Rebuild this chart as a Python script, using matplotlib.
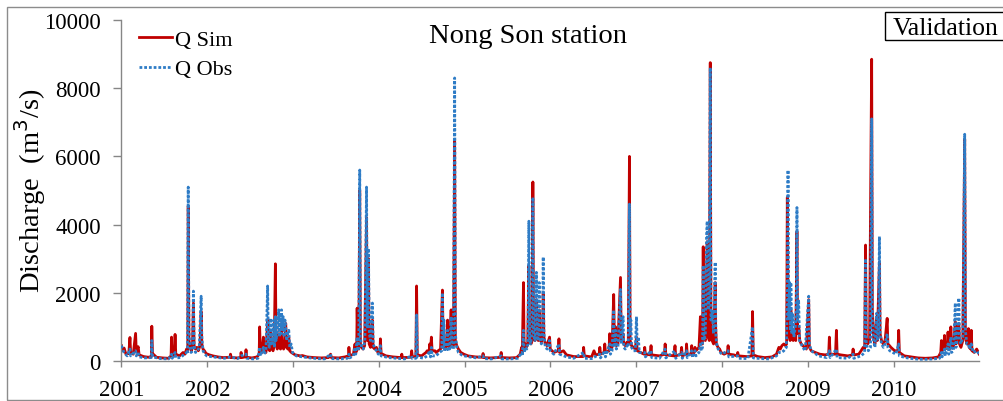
import matplotlib
matplotlib.use("Agg")
import matplotlib.pyplot as plt
from matplotlib.patches import Rectangle
import pandas as pd

# discharge values (m3/s), knots of the daily series
sim_points = [
    ("2001-01-01", 450), ("2001-01-05", 300), ("2001-01-12", 380), ("2001-01-20", 200), ("2001-02-01", 220),
    ("2001-02-06", 690), ("2001-02-09", 250), ("2001-02-20", 200), ("2001-03-02", 810), ("2001-03-05", 260),
    ("2001-03-13", 420), ("2001-03-17", 180), ("2001-04-05", 130), ("2001-04-25", 110), ("2001-05-08", 130),
    ("2001-05-10", 1020), ("2001-05-13", 220), ("2001-05-30", 110), ("2001-06-25", 90), ("2001-07-20", 80),
    ("2001-07-31", 150), ("2001-08-02", 700), ("2001-08-05", 180), ("2001-08-14", 160), ("2001-08-17", 780),
    ("2001-08-20", 200), ("2001-09-05", 150), ("2001-09-20", 250), ("2001-09-28", 200), ("2001-10-05", 350),
    ("2001-10-10", 300), ("2001-10-12", 4550), ("2001-10-15", 600), ("2001-10-20", 450), ("2001-10-25", 300),
    ("2001-10-30", 420), ("2001-11-03", 1700), ("2001-11-06", 450), ("2001-11-12", 350), ("2001-11-18", 400),
    ("2001-11-24", 300), ("2001-12-01", 450), ("2001-12-06", 1450), ("2001-12-09", 500), ("2001-12-14", 350),
    ("2001-12-20", 300), ("2001-12-27", 220),
    ("2002-01-10", 180), ("2002-01-25", 150), ("2002-02-15", 120), ("2002-03-10", 100), ("2002-04-08", 110),
    ("2002-04-10", 200), ("2002-04-13", 100), ("2002-05-10", 90), ("2002-05-23", 100), ("2002-05-25", 250),
    ("2002-05-28", 100), ("2002-06-12", 120), ("2002-06-15", 330), ("2002-06-18", 110), ("2002-07-10", 90),
    ("2002-08-01", 120), ("2002-08-10", 200), ("2002-08-12", 1000), ("2002-08-15", 300), ("2002-08-22", 250),
    ("2002-08-28", 700), ("2002-08-31", 300), ("2002-09-08", 250), ("2002-09-15", 1200), ("2002-09-18", 350),
    ("2002-09-24", 300), ("2002-09-28", 900), ("2002-10-02", 400), ("2002-10-08", 300), ("2002-10-13", 450),
    ("2002-10-18", 2850), ("2002-10-21", 500), ("2002-10-26", 350), ("2002-11-01", 800), ("2002-11-04", 400),
    ("2002-11-09", 350), ("2002-11-13", 1100), ("2002-11-17", 450), ("2002-11-22", 350), ("2002-11-27", 450),
    ("2002-12-01", 1100), ("2002-12-05", 400), ("2002-12-10", 350), ("2002-12-14", 700), ("2002-12-18", 300),
    ("2002-12-25", 250),
    ("2003-01-10", 180), ("2003-02-01", 150), ("2003-02-10", 160), ("2003-03-01", 120), ("2003-04-01", 100),
    ("2003-05-01", 90), ("2003-06-01", 100), ("2003-06-10", 200), ("2003-06-13", 100), ("2003-07-15", 90),
    ("2003-08-10", 120), ("2003-08-25", 150), ("2003-08-27", 400), ("2003-08-30", 150), ("2003-09-15", 200),
    ("2003-09-22", 500), ("2003-09-25", 250), ("2003-09-29", 300), ("2003-10-01", 1550), ("2003-10-04", 400),
    ("2003-10-08", 350), ("2003-10-12", 5000), ("2003-10-15", 500), ("2003-10-20", 400), ("2003-10-26", 350),
    ("2003-11-02", 450), ("2003-11-10", 4200), ("2003-11-13", 600), ("2003-11-18", 3000), ("2003-11-21", 500),
    ("2003-11-27", 400), ("2003-12-05", 1200), ("2003-12-08", 400), ("2003-12-15", 350), ("2003-12-22", 400),
    ("2003-12-28", 250),
    ("2004-01-06", 250), ("2004-01-08", 650), ("2004-01-11", 220), ("2004-02-01", 150), ("2004-03-01", 120),
    ("2004-04-05", 100), ("2004-04-08", 200), ("2004-04-11", 100), ("2004-05-17", 110), ("2004-05-20", 300),
    ("2004-05-23", 120), ("2004-06-07", 130), ("2004-06-10", 2200), ("2004-06-13", 180), ("2004-07-01", 150),
    ("2004-07-20", 250), ("2004-07-25", 300), ("2004-08-02", 250), ("2004-08-05", 500), ("2004-08-08", 250),
    ("2004-08-12", 700), ("2004-08-15", 300), ("2004-08-27", 300), ("2004-09-01", 250), ("2004-09-10", 300),
    ("2004-09-20", 350), ("2004-09-28", 2080), ("2004-10-01", 400), ("2004-10-08", 350), ("2004-10-14", 400),
    ("2004-10-20", 1200), ("2004-10-23", 450), ("2004-10-29", 400), ("2004-11-04", 1500), ("2004-11-07", 500),
    ("2004-11-14", 450), ("2004-11-19", 6500), ("2004-11-22", 600), ("2004-11-28", 450), ("2004-12-05", 350),
    ("2004-12-15", 250), ("2004-12-28", 200),
    ("2005-01-15", 150), ("2005-02-15", 120), ("2005-03-17", 110), ("2005-03-20", 220), ("2005-03-23", 100),
    ("2005-04-20", 90), ("2005-05-20", 100), ("2005-06-02", 110), ("2005-06-05", 250), ("2005-06-08", 100),
    ("2005-07-10", 90), ("2005-08-10", 100), ("2005-08-25", 200), ("2005-08-31", 400), ("2005-09-03", 250),
    ("2005-09-08", 2300), ("2005-09-11", 350), ("2005-09-16", 500), ("2005-09-20", 400), ("2005-09-26", 500),
    ("2005-10-01", 2800), ("2005-10-04", 600), ("2005-10-10", 500), ("2005-10-15", 600), ("2005-10-18", 5250),
    ("2005-10-21", 700), ("2005-10-27", 600), ("2005-11-02", 1800), ("2005-11-05", 700), ("2005-11-10", 600),
    ("2005-11-14", 1500), ("2005-11-17", 650), ("2005-11-23", 550), ("2005-11-28", 700), ("2005-12-01", 2000),
    ("2005-12-04", 700), ("2005-12-10", 500), ("2005-12-17", 450), ("2005-12-28", 700), ("2005-12-31", 350),
    ("2006-01-15", 250), ("2006-02-03", 300), ("2006-02-06", 650), ("2006-02-09", 250), ("2006-02-25", 300),
    ("2006-03-10", 180), ("2006-04-10", 130), ("2006-05-19", 130), ("2006-05-22", 400), ("2006-05-25", 150),
    ("2006-06-25", 120), ("2006-07-05", 300), ("2006-07-12", 180), ("2006-07-27", 200), ("2006-07-30", 400),
    ("2006-08-02", 200), ("2006-08-17", 250), ("2006-08-20", 500), ("2006-08-23", 250), ("2006-09-07", 300),
    ("2006-09-10", 800), ("2006-09-13", 350), ("2006-09-20", 400), ("2006-09-27", 1950), ("2006-09-30", 500),
    ("2006-10-05", 1000), ("2006-10-08", 450), ("2006-10-15", 500), ("2006-10-26", 2450), ("2006-10-29", 600),
    ("2006-11-06", 800), ("2006-11-09", 500), ("2006-11-15", 450), ("2006-11-22", 550), ("2006-11-28", 500),
    ("2006-12-03", 6000), ("2006-12-06", 600), ("2006-12-12", 450), ("2006-12-20", 400), ("2006-12-28", 350),
    ("2007-01-02", 700), ("2007-01-05", 300), ("2007-01-20", 250), ("2007-02-03", 200), ("2007-02-06", 400),
    ("2007-02-09", 200), ("2007-03-01", 180), ("2007-03-05", 450), ("2007-03-08", 180), ("2007-04-10", 150),
    ("2007-05-01", 200), ("2007-05-04", 500), ("2007-05-07", 180), ("2007-06-10", 150), ("2007-06-15", 450),
    ("2007-06-18", 150), ("2007-07-10", 200), ("2007-07-13", 400), ("2007-07-16", 150), ("2007-08-01", 200),
    ("2007-08-03", 500), ("2007-08-06", 200), ("2007-08-22", 200), ("2007-08-25", 450), ("2007-08-28", 200),
    ("2007-09-05", 250), ("2007-09-08", 400), ("2007-09-12", 300), ("2007-09-25", 400), ("2007-10-01", 1300),
    ("2007-10-04", 500), ("2007-10-10", 500), ("2007-10-13", 3350), ("2007-10-16", 700), ("2007-10-22", 600),
    ("2007-10-30", 3500), ("2007-11-03", 700), ("2007-11-08", 600), ("2007-11-12", 8750), ("2007-11-15", 800),
    ("2007-11-20", 600), ("2007-11-26", 500), ("2007-12-03", 2300), ("2007-12-05", 1000), ("2007-12-08", 500),
    ("2007-12-15", 400), ("2007-12-22", 350), ("2007-12-28", 250),
    ("2008-01-10", 200), ("2008-01-24", 250), ("2008-01-27", 450), ("2008-01-30", 200), ("2008-02-20", 180),
    ("2008-03-05", 150), ("2008-03-08", 250), ("2008-03-11", 150), ("2008-04-15", 130), ("2008-05-07", 150),
    ("2008-05-10", 1450), ("2008-05-13", 180), ("2008-06-01", 130), ("2008-07-01", 100), ("2008-08-01", 120),
    ("2008-08-20", 200), ("2008-08-30", 400), ("2008-09-05", 350), ("2008-09-12", 450), ("2008-09-20", 500),
    ("2008-09-27", 450), ("2008-10-02", 500), ("2008-10-05", 4800), ("2008-10-08", 1800), ("2008-10-12", 800),
    ("2008-10-17", 600), ("2008-10-20", 1500), ("2008-10-24", 700), ("2008-10-30", 600), ("2008-11-05", 700),
    ("2008-11-10", 600), ("2008-11-15", 3800), ("2008-11-18", 800), ("2008-11-23", 1000), ("2008-11-27", 600),
    ("2008-12-03", 500), ("2008-12-10", 450), ("2008-12-18", 400), ("2008-12-25", 350),
    ("2009-01-04", 1800), ("2009-01-07", 400), ("2009-01-15", 300), ("2009-02-01", 250), ("2009-02-20", 200),
    ("2009-03-15", 180), ("2009-03-30", 200), ("2009-04-02", 700), ("2009-04-05", 200), ("2009-04-28", 200),
    ("2009-05-02", 900), ("2009-05-05", 200), ("2009-05-20", 180), ("2009-06-20", 150), ("2009-07-09", 180),
    ("2009-07-12", 350), ("2009-07-15", 180), ("2009-08-05", 200), ("2009-08-15", 300), ("2009-08-24", 400),
    ("2009-08-30", 350), ("2009-09-03", 3400), ("2009-09-06", 700), ("2009-09-12", 500), ("2009-09-20", 600),
    ("2009-09-29", 8850), ("2009-10-02", 1500), ("2009-10-07", 700), ("2009-10-13", 500), ("2009-10-20", 1300),
    ("2009-10-23", 600), ("2009-11-01", 2900), ("2009-11-04", 800), ("2009-11-10", 600), ("2009-11-17", 500),
    ("2009-11-25", 600), ("2009-12-04", 1250), ("2009-12-07", 500), ("2009-12-14", 450), ("2009-12-20", 400),
    ("2009-12-28", 350),
    ("2010-01-05", 300), ("2010-01-19", 300), ("2010-01-22", 900), ("2010-01-25", 250), ("2010-02-15", 150),
    ("2010-03-15", 120), ("2010-04-15", 90), ("2010-05-15", 80), ("2010-06-15", 90), ("2010-07-10", 120),
    ("2010-07-20", 250), ("2010-07-23", 600), ("2010-07-26", 300), ("2010-08-02", 350), ("2010-08-05", 750),
    ("2010-08-08", 350), ("2010-08-17", 400), ("2010-08-20", 850), ("2010-08-23", 400), ("2010-08-29", 350),
    ("2010-09-01", 1000), ("2010-09-04", 450), ("2010-09-12", 400), ("2010-09-20", 1150), ("2010-09-23", 500),
    ("2010-10-05", 1100), ("2010-10-08", 500), ("2010-10-14", 400), ("2010-10-22", 600), ("2010-10-30", 6500),
    ("2010-11-02", 700), ("2010-11-08", 500), ("2010-11-15", 950), ("2010-11-18", 400), ("2010-11-24", 350),
    ("2010-11-27", 900), ("2010-11-30", 300), ("2010-12-10", 250), ("2010-12-20", 350), ("2010-12-31", 200),
]

obs_points = [
    ("2001-01-01", 450), ("2001-01-05", 350), ("2001-01-12", 250), ("2001-01-25", 150), ("2001-02-06", 350),
    ("2001-02-09", 150), ("2001-03-02", 300), ("2001-03-05", 150), ("2001-03-13", 250), ("2001-03-17", 120),
    ("2001-04-10", 90), ("2001-05-08", 100), ("2001-05-10", 600), ("2001-05-13", 120), ("2001-06-15", 70),
    ("2001-07-20", 60), ("2001-08-02", 200), ("2001-08-05", 80), ("2001-08-17", 250), ("2001-08-20", 90),
    ("2001-09-10", 100), ("2001-09-25", 200), ("2001-10-05", 250), ("2001-10-09", 200), ("2001-10-12", 5100),
    ("2001-10-15", 900), ("2001-10-19", 400), ("2001-10-24", 250), ("2001-10-31", 300), ("2001-11-03", 2050),
    ("2001-11-06", 500), ("2001-11-12", 250), ("2001-11-20", 300), ("2001-11-28", 400), ("2001-12-06", 1900),
    ("2001-12-09", 700), ("2001-12-14", 300), ("2001-12-22", 200), ("2001-12-30", 150),
    ("2002-01-15", 130), ("2002-02-15", 100), ("2002-03-15", 80), ("2002-04-10", 120), ("2002-05-10", 70),
    ("2002-05-25", 150), ("2002-06-15", 200), ("2002-06-18", 80), ("2002-07-15", 60), ("2002-08-05", 80),
    ("2002-08-12", 400), ("2002-08-15", 150), ("2002-08-28", 400), ("2002-08-31", 200), ("2002-09-08", 300),
    ("2002-09-15", 2200), ("2002-09-18", 500), ("2002-09-23", 400), ("2002-09-28", 1250), ("2002-10-02", 500),
    ("2002-10-07", 700), ("2002-10-11", 1200), ("2002-10-14", 400), ("2002-10-18", 1300), ("2002-10-21", 600),
    ("2002-10-26", 900), ("2002-11-01", 1500), ("2002-11-04", 700), ("2002-11-08", 1400), ("2002-11-11", 800),
    ("2002-11-13", 1500), ("2002-11-16", 900), ("2002-11-20", 1300), ("2002-11-24", 700), ("2002-11-28", 1200),
    ("2002-12-01", 1000), ("2002-12-05", 600), ("2002-12-09", 800), ("2002-12-14", 900), ("2002-12-18", 400),
    ("2002-12-24", 500), ("2002-12-30", 250),
    ("2003-01-15", 150), ("2003-02-10", 120), ("2003-03-15", 90), ("2003-04-15", 70), ("2003-05-15", 60),
    ("2003-06-10", 200), ("2003-06-13", 70), ("2003-07-20", 60), ("2003-08-20", 80), ("2003-08-27", 200),
    ("2003-08-30", 90), ("2003-09-15", 150), ("2003-09-22", 400), ("2003-09-25", 200), ("2003-10-01", 700),
    ("2003-10-04", 300), ("2003-10-08", 400), ("2003-10-12", 5600), ("2003-10-15", 700), ("2003-10-20", 400),
    ("2003-10-27", 350), ("2003-11-03", 600), ("2003-11-10", 5100), ("2003-11-13", 1000), ("2003-11-18", 3300),
    ("2003-11-22", 800), ("2003-11-27", 600), ("2003-12-05", 1700), ("2003-12-08", 500), ("2003-12-14", 400),
    ("2003-12-22", 300), ("2003-12-30", 200),
    ("2004-01-08", 450), ("2004-01-11", 150), ("2004-02-10", 100), ("2004-03-15", 80), ("2004-04-20", 60),
    ("2004-05-20", 150), ("2004-05-23", 70), ("2004-06-07", 80), ("2004-06-10", 1350), ("2004-06-13", 120),
    ("2004-07-10", 80), ("2004-07-25", 150), ("2004-08-05", 300), ("2004-08-08", 120), ("2004-08-12", 400),
    ("2004-08-15", 150), ("2004-09-01", 150), ("2004-09-15", 250), ("2004-09-25", 300), ("2004-09-28", 2000),
    ("2004-10-01", 400), ("2004-10-04", 1200), ("2004-10-07", 300), ("2004-10-14", 300), ("2004-10-20", 900),
    ("2004-10-23", 300), ("2004-10-29", 350), ("2004-11-04", 1300), ("2004-11-07", 400), ("2004-11-14", 350),
    ("2004-11-19", 8300), ("2004-11-22", 800), ("2004-11-28", 400), ("2004-12-05", 250), ("2004-12-18", 180),
    ("2004-12-30", 150),
    ("2005-01-20", 120), ("2005-02-20", 90), ("2005-03-20", 150), ("2005-03-23", 70), ("2005-04-25", 60),
    ("2005-06-05", 150), ("2005-06-08", 60), ("2005-07-15", 60), ("2005-08-15", 80), ("2005-08-31", 250),
    ("2005-09-03", 150), ("2005-09-08", 900), ("2005-09-11", 250), ("2005-09-16", 400), ("2005-09-22", 350),
    ("2005-09-27", 500), ("2005-10-01", 4100), ("2005-10-04", 600), ("2005-10-09", 500), ("2005-10-14", 900),
    ("2005-10-18", 4800), ("2005-10-21", 800), ("2005-10-27", 600), ("2005-11-02", 2600), ("2005-11-05", 700),
    ("2005-11-10", 600), ("2005-11-14", 2300), ("2005-11-17", 700), ("2005-11-23", 500), ("2005-11-28", 600),
    ("2005-12-01", 3050), ("2005-12-04", 800), ("2005-12-10", 400), ("2005-12-18", 350), ("2005-12-28", 600),
    ("2005-12-31", 300),
    ("2006-01-15", 200), ("2006-02-06", 500), ("2006-02-09", 200), ("2006-03-10", 120), ("2006-04-10", 80),
    ("2006-05-22", 250), ("2006-05-25", 80), ("2006-06-25", 70), ("2006-07-30", 200), ("2006-08-02", 90),
    ("2006-08-20", 300), ("2006-08-23", 120), ("2006-09-10", 500), ("2006-09-13", 200), ("2006-09-20", 300),
    ("2006-09-27", 1500), ("2006-09-30", 400), ("2006-10-05", 900), ("2006-10-08", 350), ("2006-10-15", 400),
    ("2006-10-26", 2100), ("2006-10-29", 500), ("2006-11-06", 1300), ("2006-11-09", 400), ("2006-11-15", 350),
    ("2006-11-22", 450), ("2006-11-28", 400), ("2006-12-03", 4600), ("2006-12-06", 800), ("2006-12-09", 1200),
    ("2006-12-12", 400), ("2006-12-20", 300), ("2006-12-28", 300),
    ("2007-01-02", 1300), ("2007-01-05", 500), ("2007-01-10", 700), ("2007-01-14", 250), ("2007-02-06", 250),
    ("2007-02-09", 120), ("2007-03-05", 300), ("2007-03-08", 100), ("2007-04-10", 80), ("2007-05-04", 350),
    ("2007-05-07", 90), ("2007-06-15", 300), ("2007-06-18", 80), ("2007-07-13", 250), ("2007-07-16", 80),
    ("2007-08-03", 300), ("2007-08-06", 100), ("2007-08-25", 300), ("2007-08-28", 100), ("2007-09-08", 300),
    ("2007-09-12", 150), ("2007-09-25", 250), ("2007-10-01", 500), ("2007-10-04", 300), ("2007-10-10", 400),
    ("2007-10-13", 2800), ("2007-10-16", 600), ("2007-10-22", 800), ("2007-10-27", 3600), ("2007-10-30", 4100),
    ("2007-11-03", 1500), ("2007-11-08", 2000), ("2007-11-12", 8600), ("2007-11-15", 1200), ("2007-11-20", 1500),
    ("2007-11-26", 800), ("2007-12-03", 2900), ("2007-12-06", 700), ("2007-12-12", 400), ("2007-12-20", 300),
    ("2007-12-30", 200),
    ("2008-01-27", 300), ("2008-01-30", 120), ("2008-03-08", 150), ("2008-03-11", 80), ("2008-04-20", 70),
    ("2008-05-10", 1000), ("2008-05-13", 90), ("2008-06-15", 70), ("2008-07-20", 60), ("2008-08-20", 150),
    ("2008-08-30", 250), ("2008-09-10", 250), ("2008-09-20", 300), ("2008-10-01", 400), ("2008-10-05", 2000),
    ("2008-10-08", 5600), ("2008-10-11", 1200), ("2008-10-15", 2300), ("2008-10-18", 900), ("2008-10-20", 2300),
    ("2008-10-24", 800), ("2008-10-28", 1400), ("2008-11-02", 700), ("2008-11-08", 1000), ("2008-11-12", 1500),
    ("2008-11-15", 4500), ("2008-11-18", 1200), ("2008-11-22", 1800), ("2008-11-26", 600), ("2008-12-03", 500),
    ("2008-12-10", 400), ("2008-12-20", 300),
    ("2009-01-04", 1900), ("2009-01-07", 500), ("2009-01-15", 300), ("2009-02-15", 150), ("2009-03-20", 100),
    ("2009-04-02", 300), ("2009-04-05", 100), ("2009-05-02", 350), ("2009-05-05", 100), ("2009-06-20", 80),
    ("2009-07-12", 200), ("2009-07-15", 80), ("2009-08-15", 150), ("2009-08-30", 250), ("2009-09-03", 3000),
    ("2009-09-06", 500), ("2009-09-15", 300), ("2009-09-24", 400), ("2009-09-29", 7100), ("2009-10-02", 1200),
    ("2009-10-07", 600), ("2009-10-13", 400), ("2009-10-20", 1400), ("2009-10-23", 600), ("2009-10-28", 800),
    ("2009-11-01", 3650), ("2009-11-04", 800), ("2009-11-10", 500), ("2009-11-18", 400), ("2009-11-25", 500),
    ("2009-12-04", 800), ("2009-12-07", 400), ("2009-12-15", 300), ("2009-12-28", 250),
    ("2010-01-10", 200), ("2010-01-22", 500), ("2010-01-25", 150), ("2010-02-20", 100), ("2010-03-20", 70),
    ("2010-04-20", 50), ("2010-05-20", 50), ("2010-06-20", 60), ("2010-07-15", 80), ("2010-07-23", 250),
    ("2010-07-26", 120), ("2010-08-05", 350), ("2010-08-08", 150), ("2010-08-20", 500), ("2010-08-23", 200),
    ("2010-09-01", 700), ("2010-09-04", 250), ("2010-09-12", 300), ("2010-09-20", 1700), ("2010-09-23", 400),
    ("2010-10-02", 1100), ("2010-10-05", 1850), ("2010-10-08", 600), ("2010-10-14", 500), ("2010-10-22", 700),
    ("2010-10-30", 6650), ("2010-11-02", 900), ("2010-11-08", 500), ("2010-11-15", 500), ("2010-11-20", 350),
    ("2010-11-27", 500), ("2010-12-05", 250), ("2010-12-20", 300), ("2010-12-31", 200),
]

years = list(range(2001, 2011))
y_ticks = [0, 2000, 4000, 6000, 8000, 10000]

sim = pd.DataFrame(sim_points, columns=["date", "q"])
sim["date"] = pd.to_datetime(sim["date"])
obs = pd.DataFrame(obs_points, columns=["date", "q"])
obs["date"] = pd.to_datetime(obs["date"])

plt.rcParams["font.family"] = ["Liberation Serif", "DejaVu Serif"]

W, H = 1004, 402
fig = plt.figure(figsize=(W / 100, H / 100), dpi=100)
ax = fig.add_axes([121.5 / W, 1 - 362 / H, (979.5 - 121.5) / W, (362 - 21) / H])

ax.plot(sim["date"], sim["q"], color="#C00000", lw=2.0, label="Q Sim", zorder=2)
ax.plot(obs["date"], obs["q"], color="#2E7CC6", lw=2.0, ls=(0, (1.0, 0.7)),
        dash_capstyle="butt", label="Q Obs", zorder=3)

ax.set_xlim(pd.Timestamp("2001-01-01"), pd.Timestamp("2011-01-01"))
ax.set_ylim(0, 10000)
ax.set_xticks([pd.Timestamp(f"{y}-01-01") for y in years])
ax.set_xticklabels([str(y) for y in years])
ax.set_yticks(y_ticks)
ax.set_yticklabels([str(v) for v in y_ticks])

for s in ["top", "right"]:
    ax.spines[s].set_visible(False)
for s in ["left", "bottom"]:
    ax.spines[s].set_color("#868686")
    ax.spines[s].set_linewidth(1.0)
ax.tick_params(axis="y", length=6, width=1, color="#868686", pad=9, labelsize=16.5)
ax.tick_params(axis="x", length=4, width=1, color="#868686", pad=9, labelsize=16.5)

leg = ax.legend(loc="upper left", bbox_to_anchor=(139 / W, 1 - 30 / H),
                bbox_transform=fig.transFigure, frameon=False, fontsize=16,
                handlelength=1.5, handletextpad=0.14, borderpad=0,
                borderaxespad=0, labelspacing=0.42)

fig.text(528 / W, 1 - 43 / H, "Nong Son station", ha="center", va="baseline", fontsize=20.5)
fig.text(30 / W, 1 - 191 / H, "Discharge  (m$^3$/s)", rotation=90, ha="center", va="center", fontsize=20.5)

fig.patches.append(Rectangle((885 / W, 1 - 41 / H), 130 / W, 28 / H, transform=fig.transFigure,
                             fill=False, edgecolor="black", lw=1.0))
fig.text(893 / W, 1 - 35 / H, "Validation", ha="left", va="baseline", fontsize=18.5)

# outer frame of the picture
fig.patches.append(Rectangle((7 / W, 1 - 401 / H), 1010 / W, 393 / H, transform=fig.transFigure,
                             fill=False, edgecolor="#8c8c8c", lw=1.0))

fig.savefig("out.png", dpi=100)
